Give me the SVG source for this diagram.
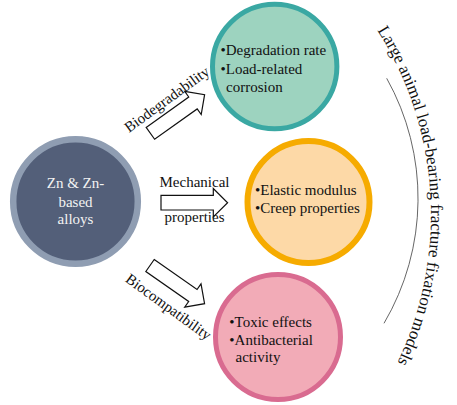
<svg xmlns="http://www.w3.org/2000/svg" width="457" height="405" viewBox="0 0 457 405">
<style>
text{font-family:"Liberation Serif","Times New Roman",serif;fill:#111}
.t{font-size:15px}
.w{fill:#f2f2f2;font-size:15px}
.arr{fill:#fff;stroke:#111;stroke-width:1.2}
</style>
<defs>
<path id="arrow" d="M -33.3 -7.3 H 19 V -14.2 L 33.3 0 L 19 14.2 V 7.3 H -33.3 Z"/>
<path id="arcText" d="M 377.3 30.2 A 343 343 0 0 1 350.8 435"/>
</defs>
<rect width="457" height="405" fill="#fff"/>
<g id="source">
<circle cx="75.5" cy="201.5" r="62.3" fill="#535f79" stroke="#8f9db2" stroke-width="6.5"/>
<text class="w" x="75.5" y="188.3" text-anchor="middle">Zn &amp; Zn-</text>
<text class="w" x="75.5" y="206.5" text-anchor="middle">based</text>
<text class="w" x="75.5" y="224" text-anchor="middle">alloys</text>
</g>
<g id="degradation">
<circle cx="274.7" cy="66.5" r="62.2" fill="#9dd3bf" stroke="#3aa8a3" stroke-width="5"/>
<text class="t" x="220.5" y="55.3">•Degradation rate</text>
<text class="t" x="220.5" y="74">•Load-related</text>
<text class="t" x="226" y="92">corrosion</text>
</g>
<g id="mechanical">
<circle cx="308.5" cy="202" r="61" fill="#fdd9a7" stroke="#f6ab00" stroke-width="6"/>
<text class="t" x="255" y="195.3">•Elastic modulus</text>
<text class="t" x="255" y="213.3">•Creep properties</text>
</g>
<g id="biocompat">
<circle cx="278" cy="337" r="62.5" fill="#f2abb7" stroke="#d96b90" stroke-width="5"/>
<text class="t" x="229.3" y="327">•Toxic effects</text>
<text class="t" x="229.3" y="345">•Antibacterial</text>
<text class="t" x="235.5" y="362.3">activity</text>
</g>
<g id="connectors">
<use href="#arrow" class="arr" transform="translate(177.5 114) rotate(-35.5)"/>
<use href="#arrow" class="arr" transform="translate(194.3 202.7)"/>
<use href="#arrow" class="arr" transform="translate(177.3 284.6) rotate(35)"/>
<text class="t" x="129" y="133" transform="rotate(-36 129 133)">Biodegradability</text>
<text class="t" x="194.5" y="186.7" text-anchor="middle">Mechanical</text>
<text class="t" x="194.5" y="221.7" text-anchor="middle">properties</text>
<text class="t" x="124.5" y="281" transform="rotate(36 124.5 281)">Biocompatibility</text>
</g>
<g id="models">
<path d="M 386.7 78.3 A 246 246 0 0 1 384 323.3" fill="none" stroke="#555" stroke-width="0.9"/>
<text style="font-size:17px"><textPath href="#arcText">Large animal load-bearing fracture fixation models</textPath></text>
</g>
</svg>
